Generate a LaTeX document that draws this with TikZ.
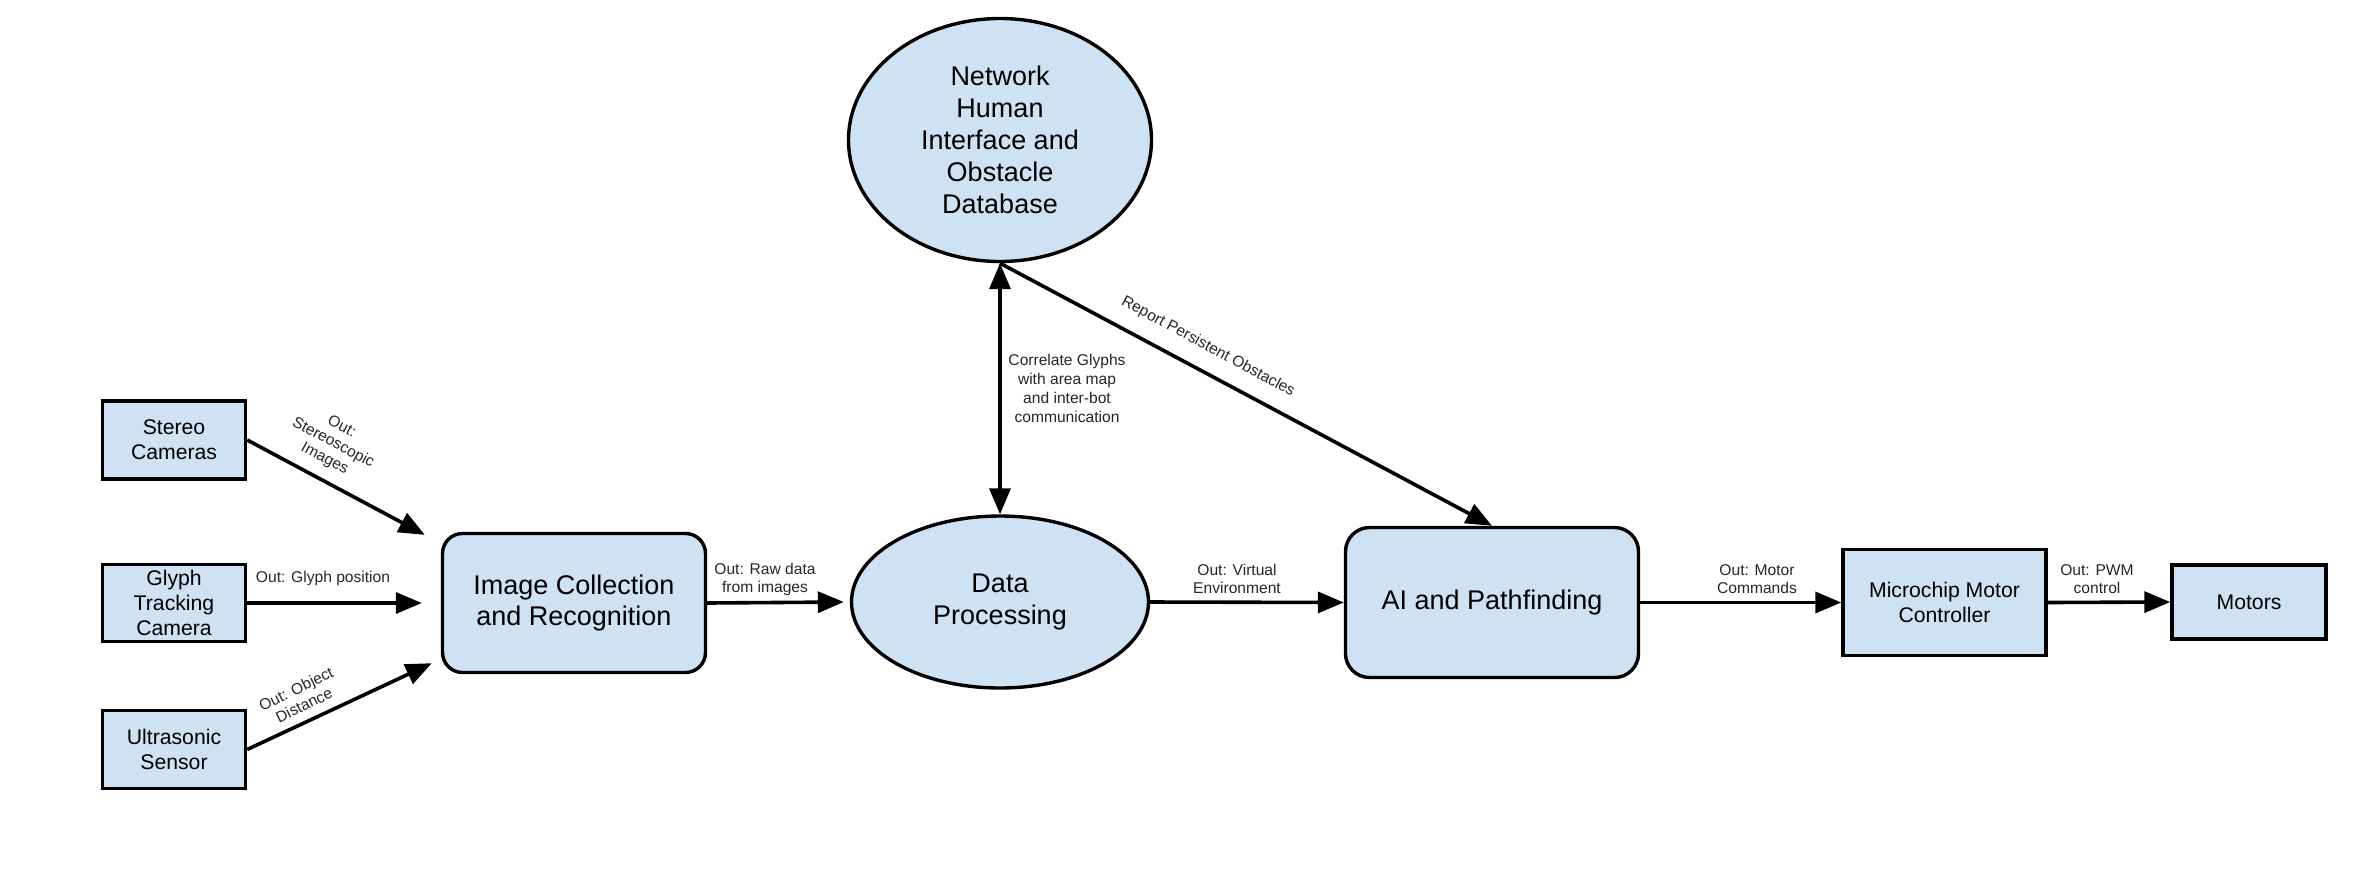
\documentclass[tikz,border=0pt]{standalone}
\usepackage{fontspec}
\setmainfont{Liberation Sans}
\usetikzlibrary{shapes.geometric,arrows.meta,calc}
\definecolor{boxblue}{HTML}{CFE2F3}
\tikzset{
  box/.style={draw=black, fill=boxblue, line width=1.7pt, inner sep=0pt, align=center},
  sqbox/.style={box, rectangle, font=\fontsize{10.6pt}{12.5pt}\selectfont},
  rbox/.style={box, rectangle, rounded corners=10pt, font=\fontsize{13.5pt}{15.5pt}\selectfont},
  ebox/.style={box, ellipse, font=\fontsize{13.5pt}{16pt}\selectfont},
  arr/.style={line width=1.8pt, -{Triangle[length=13pt,width=10.5pt]}},
  arrboth/.style={line width=1.8pt, {Triangle[length=13pt,width=10.5pt]}-{Triangle[length=13pt,width=10.5pt]}},
  lbl/.style={inner sep=0pt, align=center, text=black!85, font=\fontsize{7.8pt}{9pt}\selectfont}
}
\begin{document}
\begin{tikzpicture}[x=0.5pt, y=-0.5pt]
\useasboundingbox (0,0) rectangle (2377,874);
% nodes
\node[sqbox, minimum width=71.5pt, minimum height=39pt] (stereo) at (174,440) {Stereo\\Cameras};
\node[sqbox, minimum width=71.5pt, minimum height=38.5pt] (glyph) at (174,603) {Glyph\\Tracking\\Camera};
\node[sqbox, minimum width=71.5pt, minimum height=39pt] (ultra) at (174,749.5) {Ultrasonic\\Sensor};
\node[rbox, minimum width=131.5pt, minimum height=69.5pt] (imgcol) at (574,603) {Image Collection\\and Recognition};
\node[ebox, minimum width=148.5pt, minimum height=86pt] (dataproc) at (1000,602) {Data\\Processing};
\node[ebox, minimum width=151.5pt, minimum height=121.5pt] (network) at (1000,140) {Network\\Human\\Interface and\\Obstacle\\Database};
\node[rbox, rounded corners=12pt, minimum width=146.5pt, minimum height=75pt] (ai) at (1492,602.5) {AI and Pathfinding};
\node[sqbox, minimum width=101.5pt, minimum height=53pt] (micro) at (1944.5,602.5) {Microchip Motor\\Controller};
\node[sqbox, minimum width=77pt, minimum height=37pt] (motors) at (2249,602) {Motors};
% connectors
\draw[arr] (stereo.east) -- ($(imgcol.north west)+(-16,3)$);
\draw[arr] (glyph.east) -- ($(imgcol.west)+(-19,0)$);
\draw[arr] (ultra.east) -- ($(imgcol.south west)+(-9,-11)$);
\draw[arr] (imgcol.east) -- ($(dataproc.west)+(-6,0)$);
\draw[arrboth] (network.south) -- (dataproc.north);
\draw[arr] (network.south) -- (ai.north);
\draw[arr] (dataproc.east) -- (ai.west);
\draw[arr] (ai.east) -- (micro.west);
\draw[arr] (micro.east) -- (motors.west);
% labels
\node[lbl, rotate=-28] (lstereo) at (333,443) {Out:\\Stereoscopic\\Images};
\node[lbl] (lglyph) at (323,578) {Out: Glyph position};
\node[lbl, rotate=26] (lultra) at (300,697) {Out: Object\\Distance};
\node[lbl] (lraw) at (765,579) {Out: Raw data\\from images};
\node[lbl, font=\fontsize{7.8pt}{9.5pt}\selectfont] (lcorr) at (1067,388) {Correlate Glyphs\\with area map\\and inter-bot\\communication};
\node[lbl, rotate=-28.3] (lreport) at (1208,347) {Report Persistent Obstacles};
\node[lbl] (lvirt) at (1237,579) {Out: Virtual\\Environment};
\node[lbl] (lmotor) at (1757,579) {Out: Motor\\Commands};
\node[lbl] (lpwm) at (2097,579) {Out: PWM\\control};
\end{tikzpicture}
\end{document}
